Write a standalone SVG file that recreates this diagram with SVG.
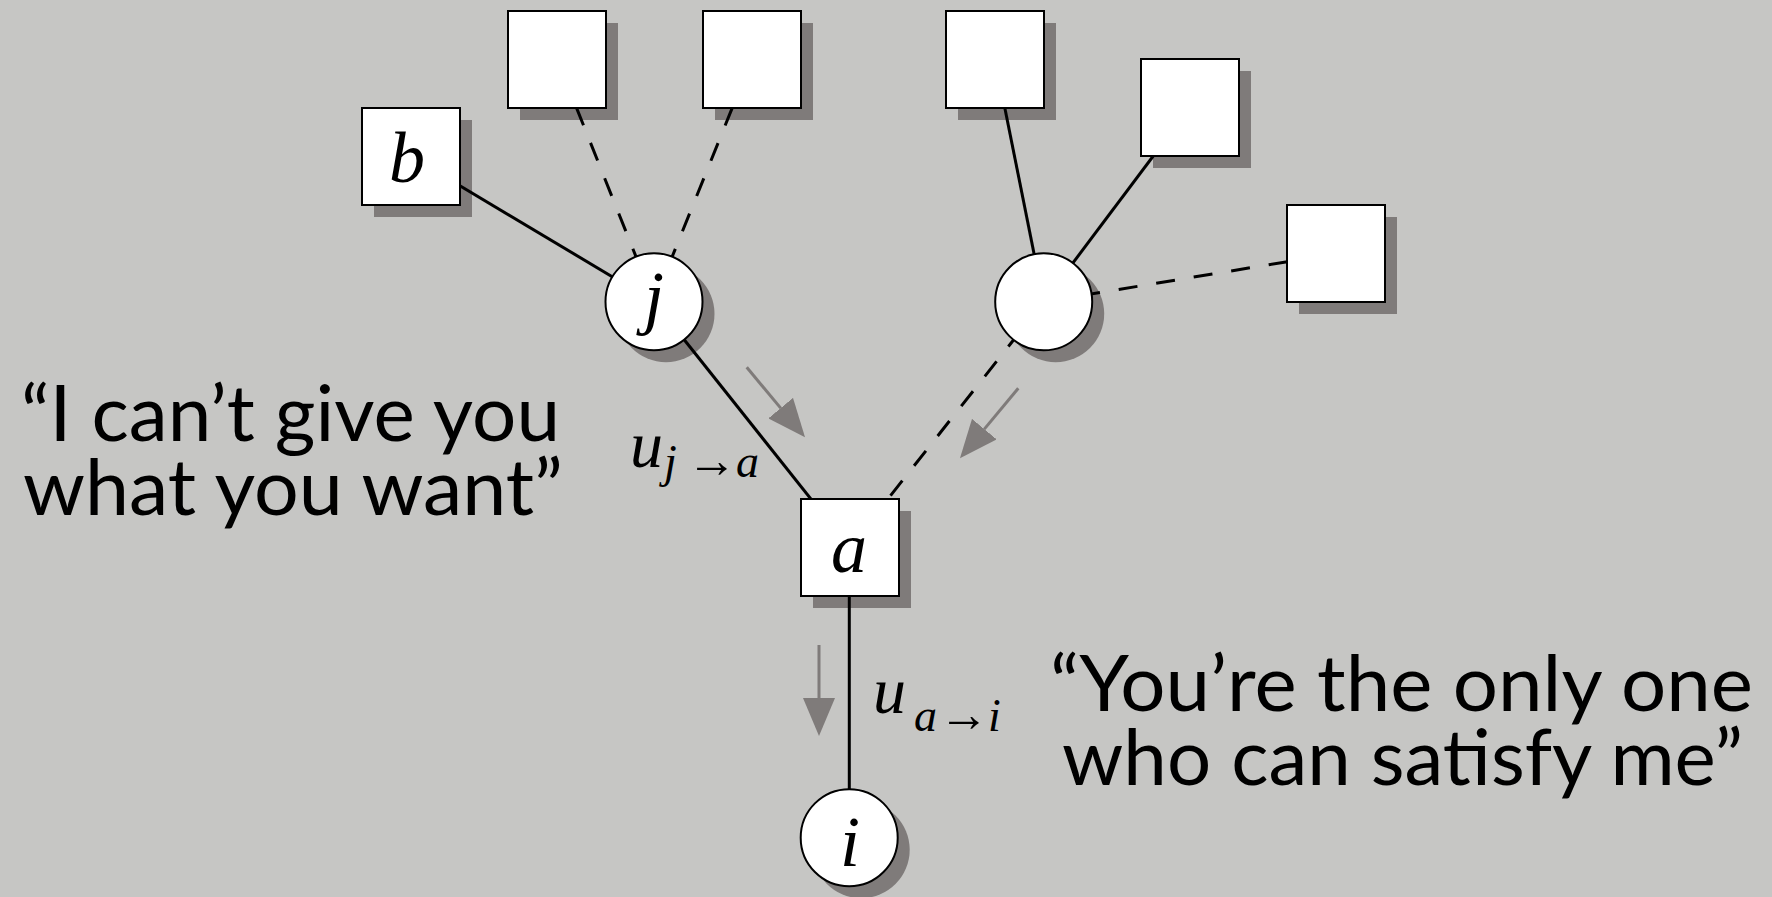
<svg xmlns="http://www.w3.org/2000/svg" width="1772" height="897" viewBox="0 0 1772 897">
<style>
.bg{fill:#c6c6c4}
.sh{fill:#7f7b7a}
.box{fill:#fff;stroke:#000;stroke-width:2}
.edge{stroke:#000;stroke-width:3;fill:none}
.dash{stroke-dasharray:19 19}
.flow{stroke:#7f7b7a;stroke-width:3;fill:none;marker-end:url(#ah)}
.math{font-family:"Liberation Serif","DejaVu Serif",serif;font-style:italic;fill:#000}
.quote{font-family:Lato,"Open Sans",sans-serif;font-size:77px;fill:#000}
</style>
<defs>
<marker id="ah" markerUnits="userSpaceOnUse" markerWidth="38" markerHeight="32" refX="0" refY="16" orient="auto" viewBox="0 0 38 32">
<path d="M0,0 L38,16 L0,32 Z" fill="#7f7b7a"/>
</marker>
</defs>
<rect class="bg" x="0" y="0" width="1772" height="897"/>

<g id="shadows">
<rect class="sh" x="374" y="120" width="98" height="97"/>
<rect class="sh" x="520" y="23" width="98" height="97"/>
<rect class="sh" x="715" y="23" width="98" height="97"/>
<rect class="sh" x="958" y="23" width="98" height="97"/>
<rect class="sh" x="1153" y="71" width="98" height="97"/>
<rect class="sh" x="1299" y="217" width="98" height="97"/>
<rect class="sh" x="813" y="511" width="98" height="97"/>
<circle class="sh" cx="666" cy="313.7" r="48.5"/>
<circle class="sh" cx="1055.7" cy="313.8" r="48.5"/>
<circle class="sh" cx="861.2" cy="849.7" r="48.5"/>
</g>

<g id="connectors">
<line class="edge" x1="411" y1="156.5" x2="654" y2="301.7"/>
<line class="edge dash" x1="654" y1="301.7" x2="557" y2="59"/>
<line class="edge dash" x1="654" y1="301.7" x2="752" y2="59"/>
<line class="edge" x1="654" y1="301.7" x2="849.5" y2="547.5"/>
<line class="edge" x1="995" y1="59" x2="1043.7" y2="301.8"/>
<line class="edge" x1="1189.7" y1="107.5" x2="1043.7" y2="301.8"/>
<line class="edge dash" x1="1043.7" y1="301.8" x2="1335.7" y2="253.7"/>
<line class="edge dash" x1="1043.7" y1="301.8" x2="849.5" y2="547.5"/>
<line class="edge" x1="849.3" y1="547.5" x2="849.3" y2="837.7"/>
<line class="flow" x1="746.7" y1="367.3" x2="780.7" y2="408.1"/>
<line class="flow" x1="1018.3" y1="388.3" x2="984.3" y2="429.1"/>
<line class="flow" x1="819" y1="645" x2="819" y2="698"/>
</g>

<g id="node-b">
<rect class="box" x="362" y="108" width="98" height="97"/>
<text class="math" x="407" y="181.5" font-size="72" text-anchor="middle">b</text>
</g>
<g id="node-f1">
<rect class="box" x="508" y="11" width="98" height="97"/>
</g>
<g id="node-f2">
<rect class="box" x="703" y="11" width="98" height="97"/>
</g>
<g id="node-f3">
<rect class="box" x="946" y="11" width="98" height="97"/>
</g>
<g id="node-f4">
<rect class="box" x="1141" y="59" width="98" height="97"/>
</g>
<g id="node-f5">
<rect class="box" x="1287" y="205" width="98" height="97"/>
</g>
<g id="node-a">
<rect class="box" x="801" y="499" width="98" height="97"/>
<text class="math" x="849" y="571.5" font-size="72" text-anchor="middle">a</text>
</g>
<g id="node-j">
<circle class="box" cx="654" cy="301.7" r="48.5"/>
<text class="math" x="654" y="321" font-size="72" text-anchor="middle">j</text>
</g>
<g id="node-v">
<circle class="box" cx="1043.7" cy="301.8" r="48.5"/>
</g>
<g id="node-i">
<circle class="box" cx="849.2" cy="837.7" r="48.5"/>
<text class="math" x="850" y="866" font-size="72" text-anchor="middle">i</text>
</g>

<g id="labels">
<text class="math" font-size="46"><tspan x="630" y="467" font-size="66">u</tspan><tspan x="664" y="477">j</tspan><tspan x="687" y="477" font-style="normal" font-size="50">→</tspan><tspan x="736" y="477">a</tspan></text>
<text class="math" font-size="46"><tspan x="873" y="713" font-size="66">u</tspan><tspan x="914" y="731">a</tspan><tspan x="939" y="731" font-style="normal" font-size="50">→</tspan><tspan x="988" y="731">i</tspan></text>
</g>

<g id="quotes">
<text class="quote"><tspan x="21" y="441" textLength="539" lengthAdjust="spacingAndGlyphs">“I can’t give you</tspan><tspan x="23" y="515" textLength="540" lengthAdjust="spacingAndGlyphs">what you want”</tspan></text>
<text class="quote"><tspan x="1050" y="711" textLength="703" lengthAdjust="spacingAndGlyphs">“You’re the only one</tspan><tspan x="1062" y="785" textLength="681" lengthAdjust="spacingAndGlyphs">who can satisfy me”</tspan></text>
</g>
</svg>
